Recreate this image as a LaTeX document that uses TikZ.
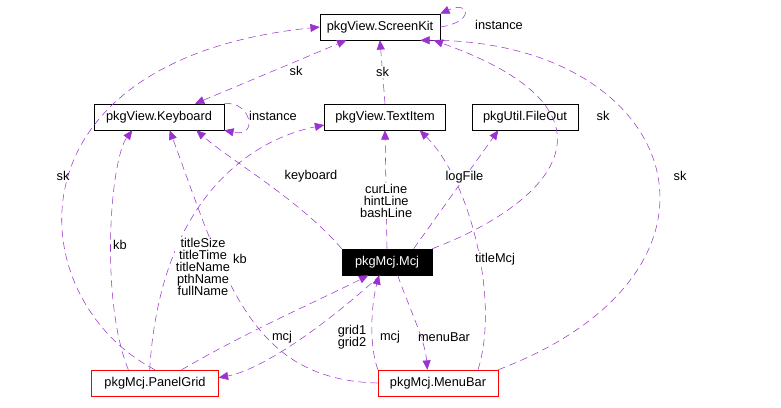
\documentclass[tikz,border=0pt]{standalone}
\usepackage{fontspec}
\setmainfont{Liberation Sans}
\usetikzlibrary{arrows.meta}
\definecolor{ep}{HTML}{9A32CD}
\begin{document}
\begin{tikzpicture}[x=0.75pt,y=-0.75pt,
  cls/.style={draw=black,fill=white,minimum width=#1*0.75pt,minimum height=19.5pt,inner sep=0pt,font=\fontsize{9.6}{11}\selectfont},
  red/.style={cls=#1,draw=red},
  e/.style={draw=ep,dash pattern=on 5.5pt off 3.5pt,-{Triangle[length=7pt,width=6pt]}},
  lab/.style={font=\fontsize{9.6}{11}\selectfont,align=center,inner sep=1pt,fill=white}]
\useasboundingbox (0,0) rectangle (781,407);
\node[cls=120] (sk) at (380,27) {pkgView.ScreenKit};
\node[cls=130] (kb) at (159,117) {pkgView.Keyboard};
\node[cls=121] (ti) at (385,117) {pkgView.TextItem};
\node[cls=106] (fo) at (525,117) {pkgUtil.FileOut};
\node[cls=90,fill=black,text=white] (mcj) at (387,262) {pkgMcj.Mcj};
\node[red=127] (pg) at (155,383) {pkgMcj.PanelGrid};
\node[red=120] (mb) at (438,383) {pkgMcj.MenuBar};
% self loops
\draw[e] (sk.east) .. controls (475,22) and (470,0) .. (sk.north east);
\node[lab,fill=none] at (499,25) {instance};
\draw[e] (kb.north east) .. controls (250,100) and (260,138) .. (kb.south east);
\node[lab,fill=none] at (273,116) {instance};
% sk edges
\draw[e,{Triangle[length=7pt,width=6pt]}-{Triangle[length=7pt,width=6pt]}] ([xshift=-22pt]kb.north east) -- ([xshift=20pt]sk.south west);
\node[lab,fill=none] at (296,71) {sk};
\draw[e] (ti.north) -- (sk.south) node[midway,lab]{sk};
\draw[e] (mcj.north east) .. controls (560,200) and (630,110) .. ([xshift=-5pt]sk.south east);
\node[lab,fill=none] at (603,116) {sk};
\draw[e] (mb.north east) .. controls (760,270) and (680,40) .. ([xshift=-15pt]sk.south east);
\node[lab,fill=none] at (680,176) {sk};
\draw[e] (pg.north) .. controls (20,300) and (0,60) .. (sk.west);
\node[lab,fill=none] at (63,176) {sk};
% kb edges
\draw[e] ([xshift=-20pt]pg.north) .. controls (100,300) and (110,160) .. ([xshift=-20pt]kb.south);
\node[lab,fill=none] at (120,245) {kb};
\draw[e] (mb.west) .. controls (250,380) and (225,280) .. ([xshift=8pt]kb.south);
\node[lab,fill=none] at (240,259) {kb};
\draw[e] (mcj.north west) .. controls (300,200) and (230,160) .. ([xshift=28pt]kb.south);
\node[lab] at (311,176) {keyboard};
% ti edges
\draw[e] ([xshift=-4pt]pg.north) .. controls (160,200) and (250,140) .. ([yshift=-6pt]ti.west);
\node[lab] at (203,267) {titleSize\\[-2pt]titleTime\\[-2pt]titleName\\[-2pt]pthName\\[-2pt]fullName};
\draw[e] (mcj.north) -- (ti.south) node[pos=0.4,lab]{curLine\\[-2pt]hintLine\\[-2pt]bashLine};
\draw[e] ([xshift=30pt]mb.north) .. controls (500,300) and (470,180) .. ([xshift=26pt]ti.south);
\node[lab] at (495,259) {titleMcj};
\draw[e] ([xshift=20pt]mcj.north) -- ([xshift=-20pt]fo.south) node[pos=0.6,lab]{logFile};
% mcj edges
\draw[e] ([xshift=20pt]pg.north) .. controls (250,330) and (320,300) .. ([xshift=-14pt]mcj.south);
\node[lab,fill=none] at (282,337) {mcj};
\draw[e] ([xshift=-5pt]mcj.south) .. controls (320,330) and (260,370) .. ([yshift=4pt]pg.east);
\node[lab,fill=none] at (352,337) {grid1\\[-2pt]grid2};
\draw[e] ([xshift=-45pt]mb.north) .. controls (370,350) and (370,310) .. ([xshift=-6pt]mcj.south);
\node[lab,fill=none] at (390,337) {mcj};
\draw[e] ([xshift=8pt]mcj.south) .. controls (410,310) and (425,340) .. ([xshift=-8pt]mb.north);
\node[lab,fill=none] at (444,337) {menuBar};
\end{tikzpicture}
\end{document}
